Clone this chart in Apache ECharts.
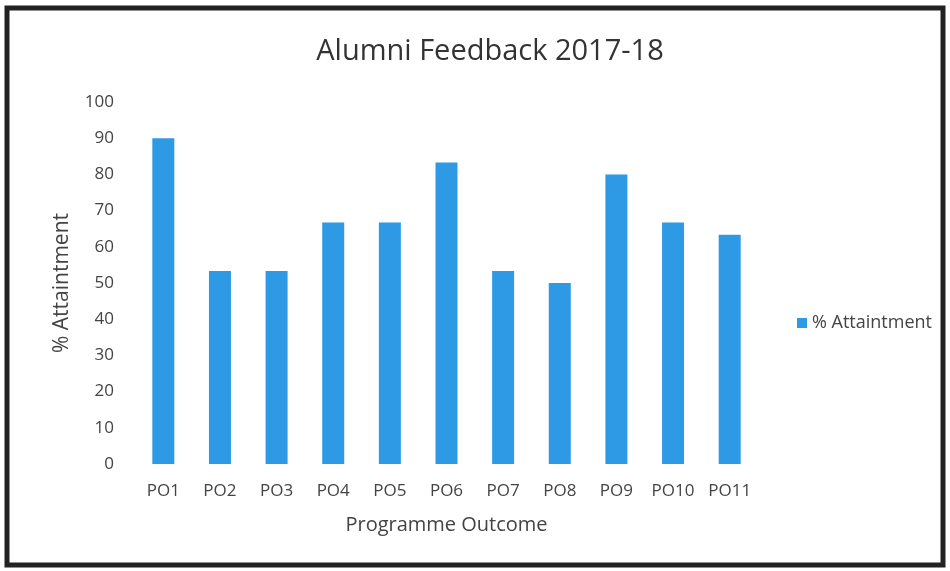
<!DOCTYPE html>
<html>
<head>
<meta charset="utf-8">
<script src="https://cdn.jsdelivr.net/npm/echarts@6/dist/echarts.min.js"></script>
<style>
  html, body { margin: 0; padding: 0; background: #fff; }
  #chart { width: 950px; height: 571px; }
</style>
</head>
<body>
<div id="chart"></div>
<script>
const categories = ['PO1', 'PO2', 'PO3', 'PO4', 'PO5', 'PO6', 'PO7', 'PO8', 'PO9', 'PO10', 'PO11'];
const attainment = [90, 53.3, 53.3, 66.7, 66.7, 83.3, 53.3, 50, 80, 66.7, 63.3];

const textColor = '#444';
const fontFamily = '"Open Sans", "Noto Sans", sans-serif';

var myChart = echarts.init(document.getElementById('chart'));

var option = {
    animation: false,
    textStyle: { fontFamily: fontFamily },
    title: {
        text: 'Alumni Feedback 2017-18',
        left: 485,
        top: 32,
        textAlign: 'center',
        textStyle: { fontSize: 29, fontWeight: 'normal', color: '#333', fontFamily: fontFamily }
    },
    legend: {
        left: 792,
        top: 309,
        itemWidth: 10,
        itemHeight: 10,
        itemGap: 6,
        icon: 'rect',
        textStyle: { fontSize: 18, color: textColor, fontFamily: fontFamily }
    },
    grid: {
        left: 135,
        right: 192,
        top: 102,
        bottom: 107
    },
    xAxis: {
        type: 'category',
        data: categories,
        name: 'Programme Outcome',
        nameLocation: 'middle',
        nameGap: 51,
        nameTextStyle: { fontSize: 20, color: textColor },
        axisLine: { show: false },
        axisTick: { show: false },
        axisLabel: { fontSize: 17, color: textColor, margin: 19 }
    },
    yAxis: {
        type: 'value',
        min: 0,
        max: 100,
        interval: 10,
        name: '% Attaintment',
        nameLocation: 'middle',
        nameGap: 62,
        nameTextStyle: { fontSize: 21, color: textColor },
        axisLine: { show: false },
        axisTick: { show: false },
        splitLine: { show: false },
        axisLabel: { fontSize: 17, color: textColor, margin: 21 }
    },
    series: [{
        name: '% Attaintment',
        type: 'bar',
        data: attainment,
        barWidth: 22,
        itemStyle: { color: '#2E9AE6' }
    }],
    graphic: [{
        type: 'rect',
        shape: { x: 7, y: 8, width: 936, height: 557 },
        style: { fill: 'none', stroke: '#222', lineWidth: 5 },
        silent: true
    }]
};

option && myChart.setOption(option);
</script>
</body>
</html>
